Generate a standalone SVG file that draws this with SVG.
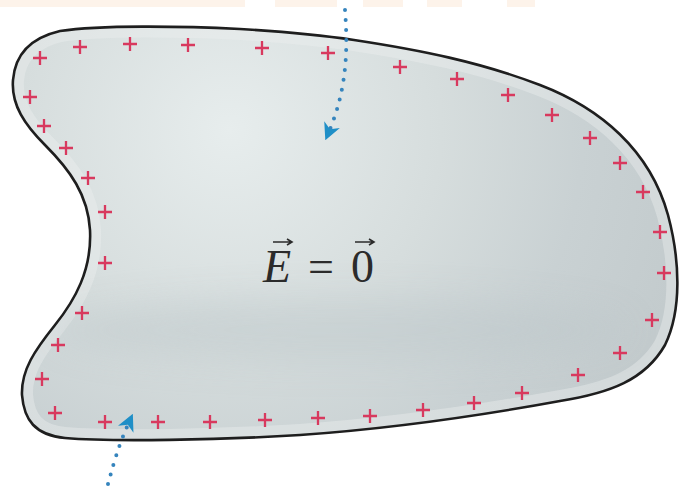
<svg xmlns="http://www.w3.org/2000/svg" xmlns:xlink="http://www.w3.org/1999/xlink" width="680" height="495" viewBox="0 0 680 495">
  <style>
    .plus { stroke: #d8395e; stroke-width: 2.3; fill: none; stroke-linecap: butt; }
    .dots { stroke: #3584bd; stroke-width: 4; fill: none; stroke-linecap: round; stroke-dasharray: 0 10; }
    .lbl { font-family: "Liberation Serif", "Times New Roman", serif; font-size: 46px; fill: #2b2b2b; }
    .vec { stroke: #2b2b2b; stroke-width: 1.6; fill: none; }
  </style>
  <defs>
    <path id="shape" d="M 13,80 C 15,55 30,38 60,31 C 100,25 180,26 240,29 C 290,32 320,35 354,40 C 420,50 480,62 540,85 C 600,108 650,150 668,215 C 680,260 682,310 665,345 C 645,380 610,393 560,401 C 500,412 400,428 300,435 C 220,440 110,442 65,438 C 35,435 24,420 22,395 C 21,370 35,350 55,325 C 75,300 92,270 90,230 C 88,195 70,170 45,145 C 25,125 11,105 13,80 Z"/>
    <radialGradient id="fill" cx="230" cy="130" r="470" gradientUnits="userSpaceOnUse">
      <stop offset="0" stop-color="#e7eded"/>
      <stop offset="0.45" stop-color="#d6dddd"/>
      <stop offset="0.75" stop-color="#c9d1d3"/>
      <stop offset="1" stop-color="#c3cbcd"/>
    </radialGradient>
    <filter id="blur" x="-20%" y="-100%" width="140%" height="300%">
      <feGaussianBlur stdDeviation="18"/>
    </filter>
    <clipPath id="clip"><use xlink:href="#shape"/></clipPath>
    <path id="p" class="plus" d="M -7,0 H 7 M 0,-7 V 7"/>
    <marker id="ah" viewBox="0 0 10 10" refX="6" refY="5" markerWidth="17" markerHeight="17" markerUnits="userSpaceOnUse" orient="auto">
      <path d="M 0,0 L 10,5 L 0,10 L 3,5 Z" fill="#1f8fc7"/>
    </marker>
  </defs>

  <g id="top-band" fill="#fdf3ea">
    <rect x="0" y="0" width="245" height="7"/>
    <rect x="275" y="0" width="62" height="7"/>
    <rect x="363" y="0" width="40" height="7"/>
    <rect x="427" y="0" width="35" height="7"/>
    <rect x="507" y="0" width="28" height="7"/>
  </g>

  <g id="conductor">
    <use xlink:href="#shape" fill="url(#fill)"/>
    <g clip-path="url(#clip)">
      <use xlink:href="#shape" fill="none" stroke="#edf1f1" stroke-width="22" opacity="0.4"/>
      <ellipse cx="340" cy="330" rx="290" ry="32" fill="#bcc6c9" opacity="0.45" filter="url(#blur)"/>
    </g>
    <use xlink:href="#shape" fill="none" stroke="#1e1e1e" stroke-width="2.6"/>
  </g>

  <g id="charges">
    <use xlink:href="#p" x="40" y="58"/>
    <use xlink:href="#p" x="80" y="47"/>
    <use xlink:href="#p" x="130" y="44"/>
    <use xlink:href="#p" x="188" y="45"/>
    <use xlink:href="#p" x="262" y="48"/>
    <use xlink:href="#p" x="328" y="53"/>
    <use xlink:href="#p" x="400" y="67"/>
    <use xlink:href="#p" x="457" y="79"/>
    <use xlink:href="#p" x="508" y="95"/>
    <use xlink:href="#p" x="552" y="115"/>
    <use xlink:href="#p" x="590" y="138"/>
    <use xlink:href="#p" x="620" y="163"/>
    <use xlink:href="#p" x="643" y="192"/>
    <use xlink:href="#p" x="660" y="232"/>
    <use xlink:href="#p" x="664" y="273"/>
    <use xlink:href="#p" x="652" y="320"/>
    <use xlink:href="#p" x="620" y="353"/>
    <use xlink:href="#p" x="578" y="375"/>
    <use xlink:href="#p" x="522" y="393"/>
    <use xlink:href="#p" x="474" y="403"/>
    <use xlink:href="#p" x="423" y="410"/>
    <use xlink:href="#p" x="370" y="416"/>
    <use xlink:href="#p" x="318" y="418"/>
    <use xlink:href="#p" x="265" y="420"/>
    <use xlink:href="#p" x="210" y="422"/>
    <use xlink:href="#p" x="158" y="422"/>
    <use xlink:href="#p" x="105" y="422"/>
    <use xlink:href="#p" x="55" y="413"/>
    <use xlink:href="#p" x="42" y="379"/>
    <use xlink:href="#p" x="58" y="345"/>
    <use xlink:href="#p" x="82" y="313"/>
    <use xlink:href="#p" x="105" y="263"/>
    <use xlink:href="#p" x="105" y="212"/>
    <use xlink:href="#p" x="88" y="178"/>
    <use xlink:href="#p" x="66" y="148"/>
    <use xlink:href="#p" x="44" y="126"/>
    <use xlink:href="#p" x="30" y="97"/>
  </g>

  <g id="label">
    <text class="lbl" x="263" y="282" font-style="italic">E</text>
    <text class="lbl" x="321" y="282" text-anchor="middle">=</text>
    <text class="lbl" x="351" y="282">0</text>
    <path class="vec" d="M 273,242 H 291 M 287,239 L 292,242 L 287,245"/>
    <path class="vec" d="M 355,242 H 373 M 369,239 L 374,242 L 369,245"/>
  </g>

  <g id="connectors">
    <path class="dots" d="M 345,10 C 348,50 347,90 328,134" marker-end="url(#ah)"/>
    <path class="dots" d="M 108,484 C 113,466 118,446 130,420" marker-end="url(#ah)"/>
  </g>
</svg>
